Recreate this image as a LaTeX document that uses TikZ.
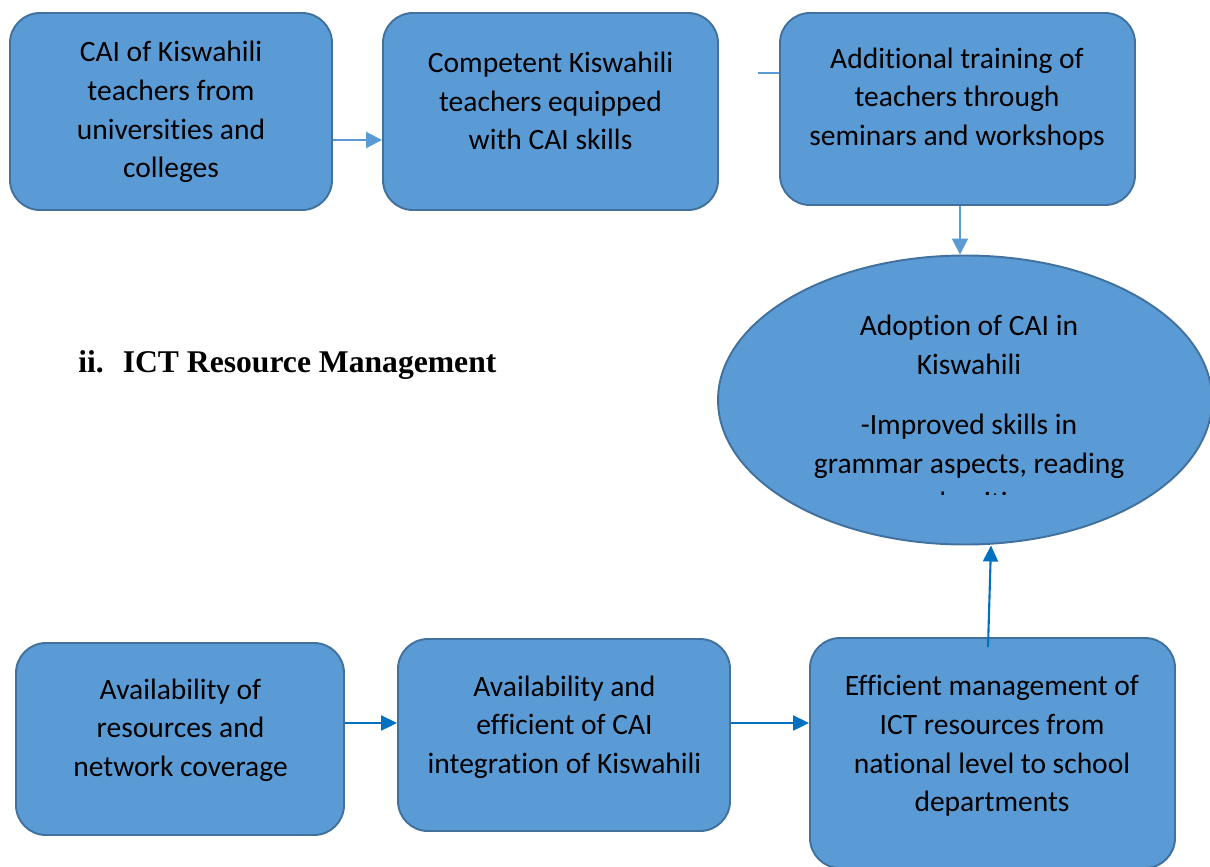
\documentclass[tikz,border=0pt]{standalone}
\usepackage{fontspec}
\setmainfont{Carlito}[Ligatures=CommonOff]
\newfontfamily\headfont{Liberation Serif}
\usetikzlibrary{arrows.meta}
\usetikzlibrary{shapes.geometric}
\definecolor{B0}{HTML}{5B9BD5}
\definecolor{B1}{HTML}{41719C}
\definecolor{B2}{HTML}{0070C0}
\def\pxu{0.02cm}
\tikzset{
  box/.style={draw=B1, fill=B0, line width=1.1pt, rounded corners=0.6cm, inner sep=0pt},
  oval/.style={draw=B1, fill=B0, line width=1.1pt, ellipse, inner sep=0pt},
  txt/.style={align=center, inner sep=0pt, font=\fontsize{16.8}{22}\selectfont},
  arrT/.style={draw=B0, line width=1.2pt, -{Triangle[length=0.32cm,width=0.32cm]}},
  lnT/.style={draw=B0, line width=1.2pt},
  arrB/.style={draw=B2, line width=1.2pt, -{Triangle[length=0.32cm,width=0.3cm]}}
}
\begin{document}
\begin{tikzpicture}[x=\pxu, y=-\pxu]
\useasboundingbox (0,0) rectangle (1210,866);
\clip (0,0) rectangle (1210,866);
\node[box, minimum width=322*\pxu, minimum height=197*\pxu] (tch) at (171,111.5) {};
\node[box, minimum width=335*\pxu, minimum height=197*\pxu] (cmp) at (550.5,111.5) {};
\node[box, minimum width=355*\pxu, minimum height=192*\pxu] (trn) at (957.5,109) {};
\node[oval, minimum width=494*\pxu, minimum height=289*\pxu] (adp) at (965,400) {};
\node[box, minimum width=328*\pxu, minimum height=192*\pxu] (avl) at (180,739) {};
\node[box, minimum width=332*\pxu, minimum height=192*\pxu] (eff) at (564,735) {};
\node[box, minimum width=365*\pxu, minimum height=230*\pxu] (mgt) at (992.5,753) {};
\node[txt] (tchT) at (171,112) {CAI of Kiswahili\\teachers from\\universities and\\colleges};
\node[txt] (cmpT) at (550.5,101) {Competent Kiswahili\\teachers equipped\\with CAI skills};
\node[txt] (trnT) at (957,99) {Additional training of\\teachers through\\seminars and workshops};
\node[txt] (avlT) at (180.5,730) {Availability of\\resources and\\network coverage};
\node[txt] (effT) at (564.5,727) {Availability and\\efficient of CAI\\integration of Kiswahili};
\node[txt] (mgtT) at (992,746) {Efficient management of\\ICT resources from\\national level to school\\departments};
\begin{scope}
\clip (700,250) rectangle (1210,494);
\node[txt] (adpT) at (969,416) {Adoption of CAI in\\Kiswahili\\[0.44cm]-Improved skills in\\grammar aspects, reading\\and writing};
\end{scope}
\node[anchor=west, inner sep=0pt, font=\headfont\bfseries\fontsize{18}{22}\selectfont] (hd) at (78,365) {ii.\hspace{0.6em}ICT Resource Management};
\coordinate (stub) at (758,73);
\draw[arrT] ([yshift=-28.5*\pxu]tch.east) -- ([yshift=-28.5*\pxu]tch.east -| cmp.west);
\draw[lnT] (stub) -- (stub -| trn.west);
\draw[arrT] (trn.south -| 960,0) -- (adp.north -| 960,0);
\draw[arrB] ([yshift=16*\pxu]avl.east) -- ([yshift=16*\pxu]avl.east -| eff.west);
\draw[arrB] ([yshift=12*\pxu]eff.east) -- ([yshift=12*\pxu]eff.east -| mgt.west);
\draw[arrB] ([shift={(-4.5*\pxu,-10*\pxu)}]mgt.north) -- ([xshift=26*\pxu]adp.south);
\end{tikzpicture}
\end{document}
